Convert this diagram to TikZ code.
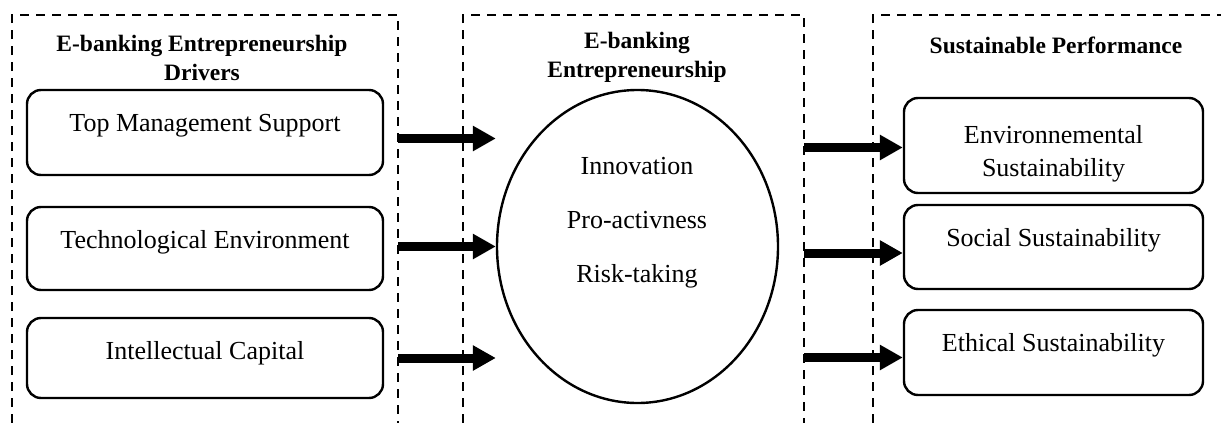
\documentclass[tikz,border=0pt]{standalone}
\usepackage{fontspec}
\setmainfont{Liberation Serif}
\usetikzlibrary{shapes.geometric,arrows.meta}

\tikzset{
  zone/.style={line width=2.2pt, dash pattern=on 9pt off 7pt},
  drv/.style={draw, rounded corners=14pt, line width=2.4pt, minimum width=356pt,
    inner ysep=0pt, text height=41pt, align=center,
    font=\fontsize{26pt}{33pt}\selectfont},
  sus/.style={drv, minimum width=299pt},
  hd/.style={align=center, font=\bfseries\fontsize{23.5pt}{29pt}\selectfont},
  arr/.style={line width=9pt, -{Triangle[length=23pt,width=24pt]}},
}

\begin{document}
\begin{tikzpicture}[x=1pt, y=-1pt]
      \useasboundingbox (0,0) rectangle (1221,423);
      \draw[zone] (12,423) -- (12,15) -- (398,15) -- (398,423);
      \draw[zone] (463,423) -- (463,15) -- (804,15) -- (804,423);
      \draw[zone] (873,423) -- (873,15) -- (1221,15);
      \coordinate (lx) at (398,0);
      \coordinate (rx) at (804,0);

      \node[hd] (td) at (202,57.5) {E-banking Entrepreneurship\\Drivers};
      \node[hd] (te) at (637,57.5) {E-banking\\Entrepreneurship};
      \node[hd] (ts) at (1056,45) {Sustainable Performance};

      \node[drv, text depth=44pt]                             (d1) at (205,132.5) {Top Management Support};
      \node[drv, text depth=42pt, below of=d1, node distance=116pt]   (d2) {Technological Environment};
      \node[drv, text depth=39pt, below of=d2, node distance=109.5pt] (d3) {Intellectual Capital};

      \node[draw, ellipse, line width=2.4pt, minimum width=281pt, minimum height=313pt] (ent) at (637.5,246.5) {};
      \node[align=center, font=\fontsize{26pt}{54pt}\selectfont] (dims) at (637,223) {Innovation\\Pro-activness\\Risk-taking};

      \node[sus, text height=78pt, text depth=17pt] (s1) at (1053.5,145.5) {Environnemental\\Sustainability};
      \node[sus, text depth=43pt] (s2) at (1053.5,247) {Social Sustainability};
      \node[sus, text depth=44pt] (s3) at (1053.5,352.5) {Ethical Sustainability};

      \draw[arr] ([yshift=-6pt]d1.east -| lx) -- ([yshift=-6pt]d1.east -| ent.west);
      \draw[arr] (ent.west -| lx) -- (ent.west);
      \draw[arr] (d3.east -| lx) -- (d3.east -| ent.west);
      \draw[arr] ([yshift=-2pt]s1.west -| rx) -- ([yshift=-2pt]s1.west);
      \draw[arr] ([yshift=-6pt]s2.west -| rx) -- ([yshift=-6pt]s2.west);
      \draw[arr] ([yshift=-5pt]s3.west -| rx) -- ([yshift=-5pt]s3.west);
    \end{tikzpicture}
\end{document}
